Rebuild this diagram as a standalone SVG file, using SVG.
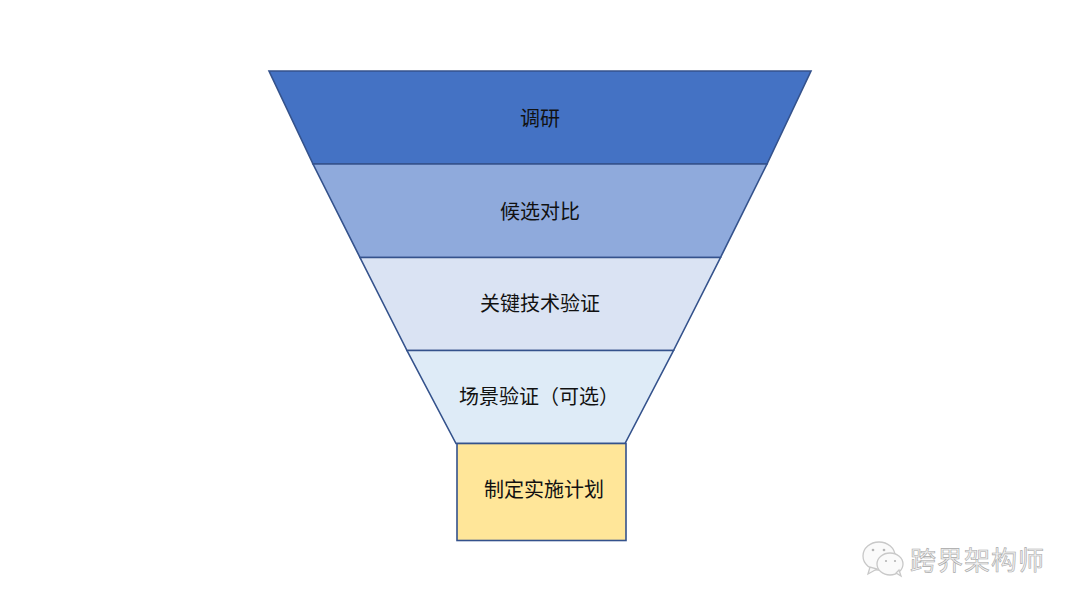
<svg xmlns="http://www.w3.org/2000/svg" width="1080" height="608" viewBox="0 0 1080 608">
<style>
.s{stroke:#34528c;stroke-width:1.600;stroke-linejoin:miter}
text{font-family:"Noto Sans CJK SC","Liberation Sans",sans-serif;font-size:20px;fill:#111;text-anchor:middle}
.wm{font-size:26px;fill:#f2f2f2;stroke:#a8a8a8;stroke-width:.6px;text-anchor:start;letter-spacing:1px}
.ic{fill:#fafafa;stroke:#c8c8c8;stroke-width:1.300}
.dot{fill:#b5b5b5}
</style>
<rect width="1080" height="608" fill="#fff"/>
<g id="node-research"><polygon class="s" points="269,71 811,71 767,164 313,164" fill="#4472c4"/><text x="540" y="126">调研</text></g>
<g id="node-compare"><polygon class="s" points="313,164 767,164 720.500,257.500 360,257.500" fill="#8faadc"/><text x="540" y="219">候选对比</text></g>
<g id="node-keytech"><polygon class="s" points="360,257.500 720.500,257.500 673.500,350.500 407,350.500" fill="#dae3f3"/><text x="540" y="311">关键技术验证</text></g>
<g id="node-scenario"><polygon class="s" points="407,350.500 673.500,350.500 625,443.500 456,443.500" fill="#deebf7"/><text x="539" y="404">场景验证（可选）</text></g>
<g id="node-plan"><rect class="s" x="457" y="443.500" width="169" height="97" fill="#ffe699"/><text x="544" y="497">制定实施计划</text></g>
<g id="watermark">
<ellipse class="ic" cx="879" cy="556" rx="16" ry="14"/>
<path class="ic" d="M870 567 L868 574 L877 569Z"/>
<ellipse class="ic" cx="890" cy="564" rx="13" ry="11"/>
<path class="ic" d="M896 573 L901 576 L899 570Z"/>
<circle class="dot" cx="873" cy="550" r="1.300"/><circle class="dot" cx="884" cy="550" r="1.300"/>
<circle class="dot" cx="886" cy="561" r="1.100"/><circle class="dot" cx="895" cy="561" r="1.100"/>
<text class="wm" x="910" y="570">跨界架构师</text>
</g>
</svg>
